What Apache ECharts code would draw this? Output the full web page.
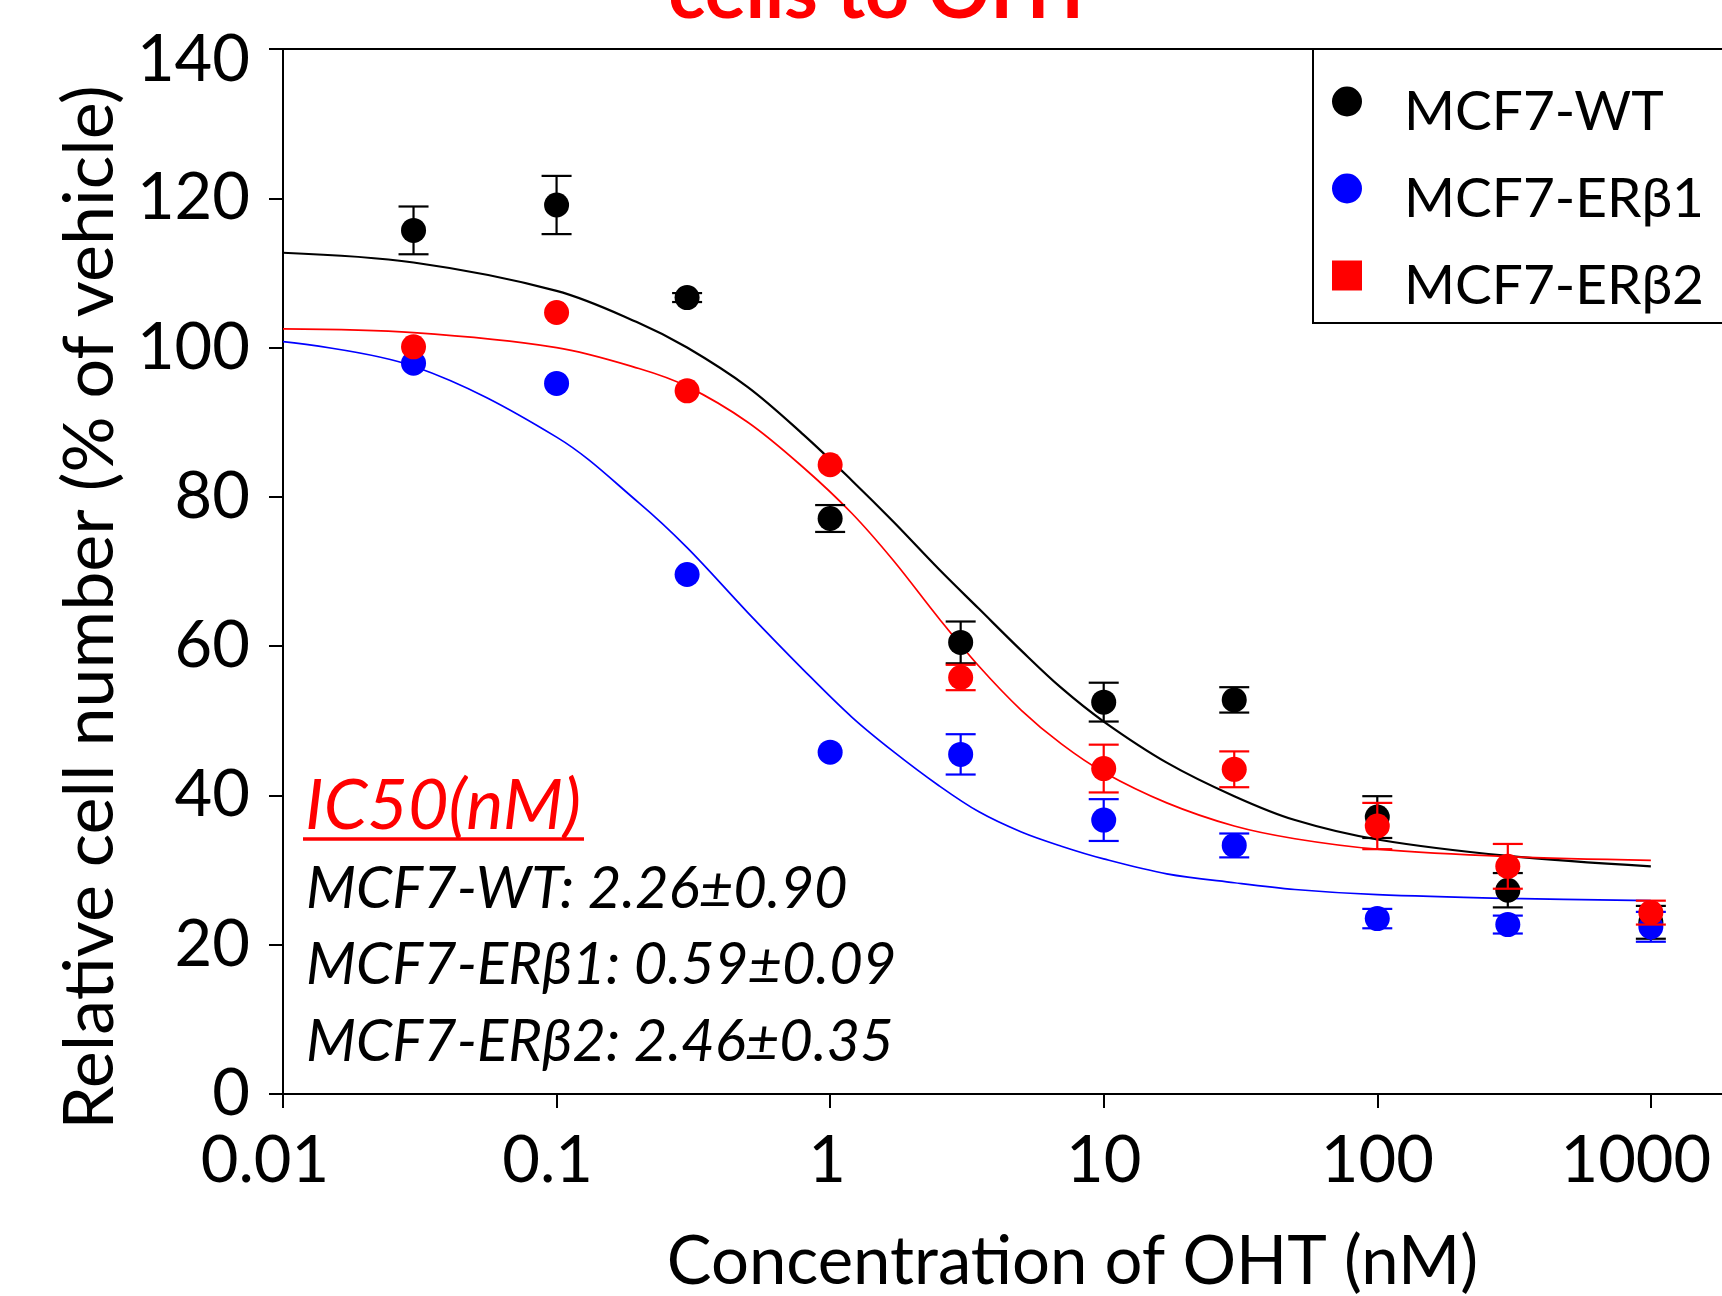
<!DOCTYPE html>
<html>
<head>
<meta charset="utf-8">
<script src="https://cdn.jsdelivr.net/npm/echarts@6/dist/echarts.min.js"></script>
<style>
  html, body { margin: 0; padding: 0; background: #fff; }
  #chart { width: 1722px; height: 1296px; }
</style>
</head>
<body>
<div id="chart"></div>
<script>
// concentrations of OHT (nM)
var conc = [0.03, 0.1, 0.3, 1, 3, 10, 30, 100, 300, 1000];

// mean relative cell number (% of vehicle) and error bars
var wtMean = [115.7, 119.1, 106.7, 77.1, 60.5, 52.5, 52.8, 37.1, 27.3, 23.0];
var wtErr = [3.2, 3.9, 0.6, 1.8, 2.8, 2.6, 1.7, 2.8, 2.3, 2.2];
var b1Mean = [97.9, 95.2, 69.6, 45.8, 45.5, 36.7, 33.3, 23.5, 22.7, 22.4];
var b1Err = [0, 0, 0, 0, 2.7, 2.8, 1.6, 1.3, 1.2, 2.0];
var b2Mean = [100.1, 104.7, 94.2, 84.3, 55.8, 43.6, 43.5, 35.9, 30.5, 24.3];
var b2Err = [0, 0, 0, 0, 1.7, 3.2, 2.4, 3.1, 3.0, 1.6];

// fitted curves
var fitX = [0.01, 0.03, 0.1, 0.2, 0.3, 0.5, 0.8, 1.2, 1.7, 2.5, 3.5, 5, 7, 10, 17, 30, 50, 100, 300, 1000];
var wtFit = [112.7, 111.4, 107.6, 103.3, 100.0, 94.7, 88.3, 82.2, 76.7, 70.3, 65.0, 59.4, 54.4, 49.9, 44.4, 39.9, 36.7, 34.1, 31.9, 30.5];
var b1Fit = [100.8, 97.5, 88.0, 79.2, 73.2, 64.5, 56.8, 50.5, 45.9, 41.3, 37.8, 35.1, 33.2, 31.5, 29.5, 28.3, 27.4, 26.7, 26.2, 25.9];
var b2Fit = [102.5, 102.0, 100.0, 97.2, 94.8, 90.0, 83.9, 77.8, 71.5, 63.7, 57.3, 51.4, 46.9, 43.1, 39.0, 35.9, 34.2, 32.8, 31.8, 31.3];

var yTicks = [0, 20, 40, 60, 80, 100, 120, 140];

var names = ['MCF7-WT', 'MCF7-ERβ1', 'MCF7-ERβ2'];
var colors = ['#000000', '#0000ff', '#ff0000'];
var ic50Lines = ['MCF7-WT: 2.26±0.90', 'MCF7-ERβ1: 0.59±0.09', 'MCF7-ERβ2: 2.46±0.35'];

var FONT = 'Lato, "Open Sans", sans-serif';

function pairs(xs, ys) {
    var out = [];
    for (var i = 0; i < xs.length; i++) out.push([xs[i], ys[i]]);
    return out;
}

function bars(mean, err) {
    var out = [];
    for (var i = 0; i < conc.length; i++) {
        if (err[i] > 0) out.push([conc[i], mean[i] - err[i], mean[i] + err[i]]);
    }
    return out;
}

function errorBar(color) {
    return function (params, api) {
        var top = api.coord([api.value(0), api.value(2)]);
        var bot = api.coord([api.value(0), api.value(1)]);
        var half = 15;
        var st = { stroke: color, lineWidth: 2.2 };
        return {
            type: 'group',
            children: [
                { type: 'line', shape: { x1: top[0], y1: top[1], x2: bot[0], y2: bot[1] }, style: st },
                { type: 'line', shape: { x1: top[0] - half, y1: top[1], x2: top[0] + half, y2: top[1] }, style: st },
                { type: 'line', shape: { x1: bot[0] - half, y1: bot[1], x2: bot[0] + half, y2: bot[1] }, style: st }
            ]
        };
    };
}

// x labels in the original sit a little left of their ticks
function lab(padRight) {
    return { fontFamily: FONT, fontSize: 65, color: '#000', padding: [0, padRight, 0, 0] };
}
var xRich = { a: lab(36), b: lab(18), c: lab(6), d: lab(0), e: lab(30) };
function xLabel(v) {
    var s = String(+v.toPrecision(6));
    var key = { '0.01': 'a', '0.1': 'b', '1': 'c', '1000': 'e' }[s] || 'd';
    return '{' + key + '|' + s + '}';
}

var myChart = echarts.init(document.getElementById('chart'));

var series = [];
// curves first so points sit on top
[wtFit, b1Fit, b2Fit].forEach(function (fit, k) {
    series.push({
        name: names[k] + ' fit',
        type: 'line',
        data: pairs(fitX, fit),
        smooth: 0.35,
        showSymbol: false,
        silent: true,
        lineStyle: { color: colors[k], width: k === 0 ? 2.2 : 1.7 },
        z: 2
    });
});
[[wtMean, wtErr], [b1Mean, b1Err], [b2Mean, b2Err]].forEach(function (d, k) {
    series.push({
        type: 'custom',
        renderItem: errorBar(colors[k]),
        data: bars(d[0], d[1]),
        encode: { x: 0, y: [1, 2] },
        silent: true,
        z: 3 + k * 2
    });
    series.push({
        name: names[k],
        type: 'scatter',
        data: pairs(conc, d[0]),
        symbol: 'circle',
        symbolSize: 25,
        itemStyle: { color: colors[k], opacity: 1 },
        z: 4 + k * 2
    });
});

var option = {
    backgroundColor: '#ffffff',
    animation: false,
    grid: { left: 283, top: 49, right: 0, bottom: 202, containLabel: false, outerBoundsMode: 'none' },
    legend: {
        data: [
            { name: names[0], icon: 'circle' },
            { name: names[1], icon: 'circle' },
            { name: names[2], icon: 'rect' }
        ],
        orient: 'vertical',
        left: 1313,
        top: 49,
        padding: [14, 80, 9, 19],
        itemGap: 10,
        itemWidth: 30,
        itemHeight: 30,
        selectedMode: false,
        borderColor: '#000',
        borderWidth: 2,
        formatter: function (name) { return '{n|' + name + '}'; },
        textStyle: {
            fontFamily: FONT, fontSize: 55, color: '#000',
            rich: { n: { fontFamily: FONT, fontSize: 55, color: '#000', lineHeight: 56, padding: [22, 0, 0, 37] } }
        }
    },
    xAxis: [{
        type: 'log',
        logBase: 10,
        min: 0.01,
        max: 1820,
        name: 'Concentration of OHT (nM)',
        nameLocation: 'middle',
        nameGap: 135,
        nameTextStyle: { fontFamily: FONT, fontSize: 67, color: '#000', padding: [0, 0, 0, 140] },
        axisLine: { show: true, lineStyle: { color: '#000', width: 2 } },
        axisTick: { show: true, length: 14, lineStyle: { color: '#000', width: 2 } },
        minorTick: { show: false },
        splitLine: { show: false },
        axisLabel: {
            fontFamily: FONT, fontSize: 65, color: '#000', margin: 35,
            showMaxLabel: false,
            formatter: xLabel,
            rich: xRich
        }
    }, {
        type: 'log',
        logBase: 10,
        min: 0.01,
        max: 1820,
        position: 'top',
        axisLine: { show: true, lineStyle: { color: '#000', width: 2 } },
        axisTick: { show: false },
        axisLabel: { show: false },
        splitLine: { show: false }
    }],
    yAxis: {
        type: 'value',
        min: yTicks[0],
        max: yTicks[yTicks.length - 1],
        interval: 20,
        name: 'Relative cell number (% of vehicle)',
        nameLocation: 'middle',
        nameGap: 158,
        nameTextStyle: { fontFamily: FONT, fontSize: 70, color: '#000', padding: [0, 72, 0, 0] },
        axisLine: { show: true, lineStyle: { color: '#000', width: 2 } },
        axisTick: { show: true, length: 14, lineStyle: { color: '#000', width: 2 } },
        splitLine: { show: false },
        axisLabel: {
            fontFamily: FONT, fontSize: 65, color: '#000', margin: 33,
            formatter: function (v) { return v === 140 ? '{t|140}' : String(v); },
            rich: { t: { fontFamily: FONT, fontSize: 65, color: '#000', padding: [22, 0, 0, 0] } }
        }
    },
    graphic: [
        {
            type: 'text', x: 882, y: -7,
            style: { text: 'cells to OHT', fill: '#ff0000', font: 'bold 77px ' + FONT, align: 'center', verticalAlign: 'middle' }
        },
        {
            type: 'text', x: 305, y: 806,
            style: { text: 'IC50(nM)', fill: '#ff0000', font: 'italic 70px ' + FONT, align: 'left', verticalAlign: 'middle' }
        },
        {
            type: 'line', shape: { x1: 303, y1: 839, x2: 584, y2: 839 },
            style: { stroke: '#ff0000', lineWidth: 3.3 }
        },
        {
            type: 'text', x: 306, y: 889,
            style: { text: ic50Lines[0], fill: '#000', font: 'italic 58px ' + FONT, align: 'left', verticalAlign: 'middle' }
        },
        {
            type: 'text', x: 306, y: 965,
            style: { text: ic50Lines[1], fill: '#000', font: 'italic 58px ' + FONT, align: 'left', verticalAlign: 'middle' }
        },
        {
            type: 'text', x: 306, y: 1042,
            style: { text: ic50Lines[2], fill: '#000', font: 'italic 58px ' + FONT, align: 'left', verticalAlign: 'middle' }
        }
    ],
    series: series
};

myChart.setOption(option);
window.addEventListener('resize', function () {
    myChart.resize();
});
</script>
</body>
</html>
